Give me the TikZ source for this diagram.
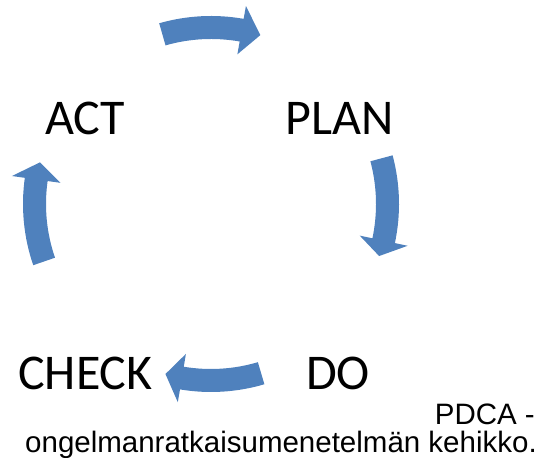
\documentclass[tikz,border=0pt]{standalone}
\usepackage{fontspec}
\setmainfont{Carlito}
\newfontfamily\capfont{Liberation Sans}
\definecolor{arrowblue}{RGB}{79,129,189}
\tikzset{
  lbl/.style={inner sep=0pt, anchor=base west, font=\fontsize{50}{60}\selectfont},
  captiontext/.style={inner sep=0pt, font=\capfont\fontsize{29.5}{34}\selectfont},
  cyclearrow/.style={fill=arrowblue, draw=none}
}
% #1 tail angle, #2 head base angle, #3 tip angle
\newcommand{\pdcaArrow}[3]{%
  \fill[cyclearrow] (#1:188) arc[start angle=#1, end angle=#2, radius=188]
    -- (#2:201) -- (#3:176) -- (#2:152) -- (#2:165)
    arc[start angle=#2, end angle=#1, radius=165] -- cycle;}
\begin{document}
\begin{tikzpicture}[x=1pt,y=1pt]
\useasboundingbox (0,0) rectangle (545,457);
\coordinate (C) at (211,253);
\begin{scope}[shift={(C)}]
  \pdcaArrow{106}{80}{73.7}
  \pdcaArrow{15}{-12}{-17.2}
  \pdcaArrow{-73.5}{-99.5}{-105}
  \pdcaArrow{199}{172}{166.3}
\end{scope}
\node[lbl] (act) at (45,322) {ACT};
\node[lbl] (plan) at (285,322) {PLAN};
\node[lbl] (check) at (18,67) {CHECK};
\node[lbl] (do) at (306,67) {DO};
\node[captiontext, anchor=base east] (cap1) at (535,33) {PDCA -};
\node[captiontext, anchor=base west] (cap2) at (25,5) {ongelmanratkaisumenetelmän kehikko.};
\end{tikzpicture}
\end{document}
